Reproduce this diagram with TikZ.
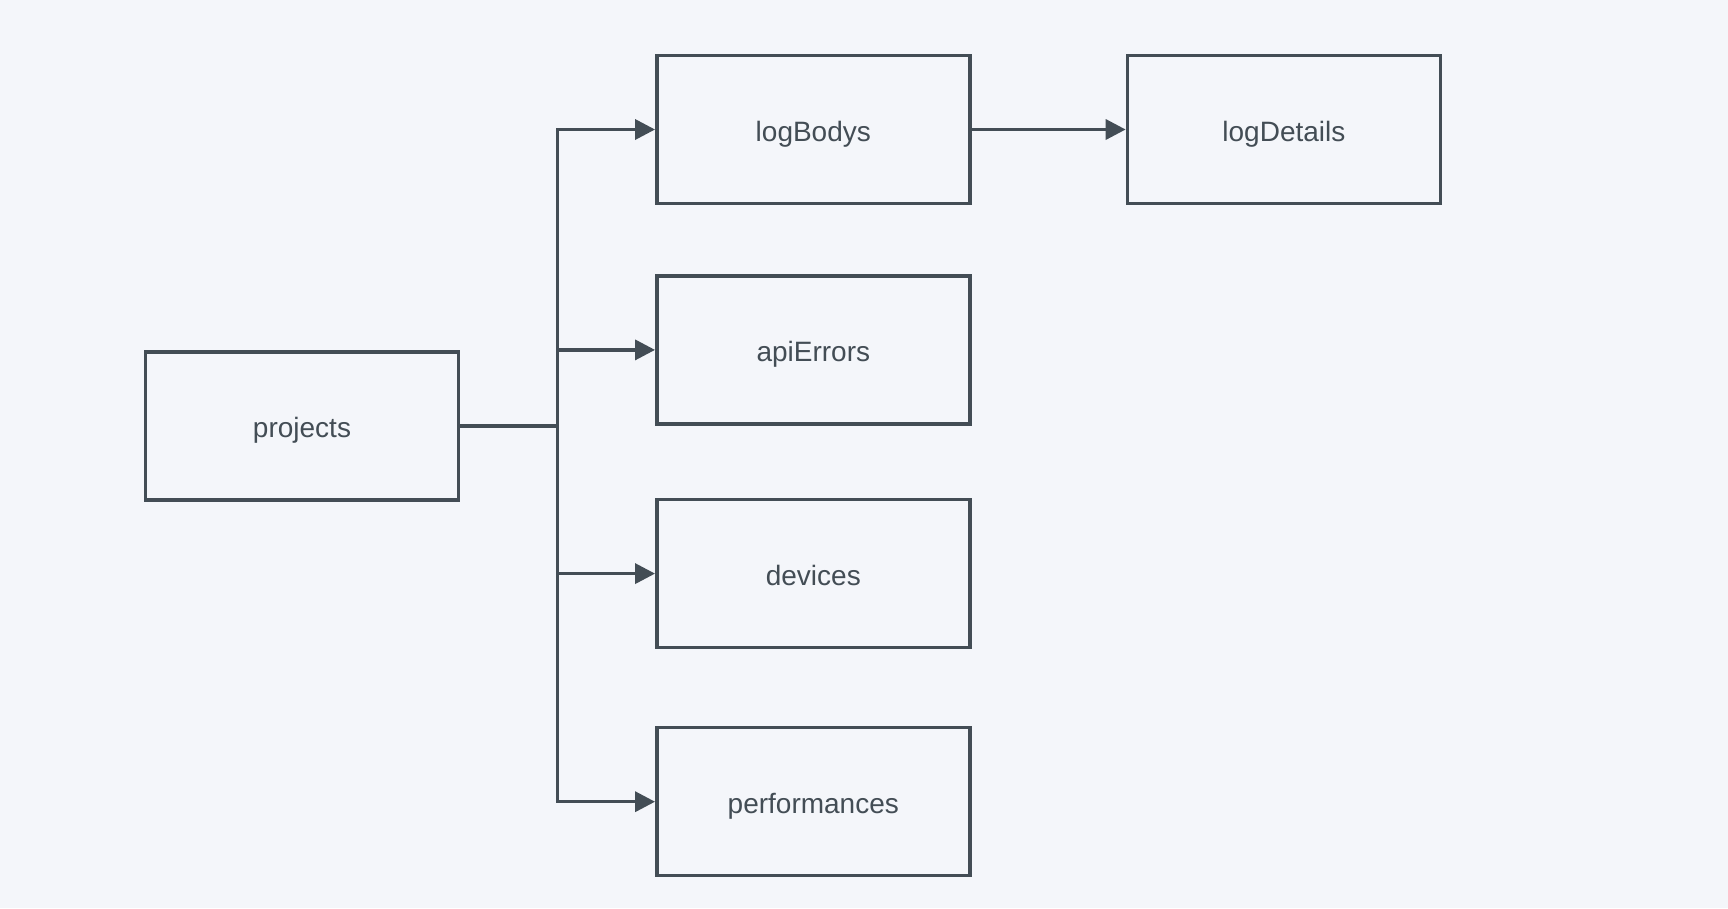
\documentclass[tikz,border=0pt]{standalone}
\usepackage{fontspec}
\setmainfont{Liberation Sans}
\usetikzlibrary{arrows.meta}
\definecolor{bg}{HTML}{F4F6FA}
\definecolor{ink}{HTML}{434D55}
\begin{document}
\begin{tikzpicture}[x=1pt,y=-1pt,
  box/.style={draw=ink, line width=3.5pt, fill=bg, minimum width=313pt, minimum height=148pt, inner sep=0pt, text=ink, text height=29pt, text depth=6pt, font=\fontsize{28}{33}\selectfont},
  link/.style={draw=ink, line width=3.5pt, -{Triangle[length=20pt,width=20pt]}}]
\fill[bg] (0,0) rectangle (1728,908);
\useasboundingbox (0,0) rectangle (1728,908);
\node[box] (projects) at (302,425.9) {projects};
\node[box] (logBodys) at (813.3,129.5) {logBodys};
\node[box] (logDetails) at (1283.9,129.5) {logDetails};
\node[box] (apiErrors) at (813.3,349.9) {apiErrors};
\node[box] (devices) at (813.3,573.6) {devices};
\node[box] (performances) at (813.3,801.7) {performances};
\coordinate (j) at (557.6,425.9);
\draw[draw=ink, line width=3.5pt] (projects.east) -- (j);
\draw[link] (j) |- (logBodys.west);
\draw[link] (j) |- (apiErrors.west);
\draw[link] (j) |- (devices.west);
\draw[link] (j) |- (performances.west);
\draw[link] (logBodys.east) -- (logDetails.west);
\end{tikzpicture}
\end{document}
